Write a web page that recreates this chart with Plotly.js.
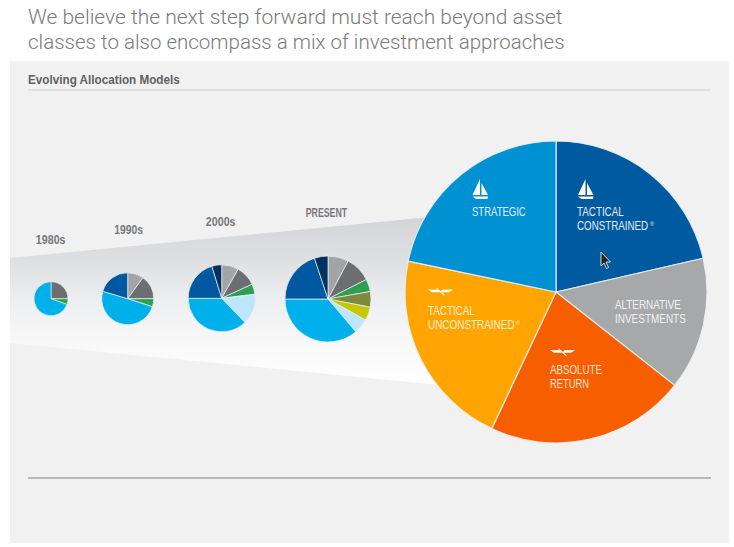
<!DOCTYPE html>
<html><head><meta charset="utf-8">
<script src="https://cdn.plot.ly/plotly-3.0.1.min.js"></script>
<style>html,body{margin:0;padding:0;background:#fff;overflow:hidden}#c{width:734px;height:547px}</style>
</head><body><div id="c"></div>
<script>
const W = 734, H = 547;
const SANS = '"Liberation Sans",Arial,sans-serif';

// Values are slice sizes in degrees of a full circle, read clockwise from 12 o'clock
const labels1980 = ['Equity core', 'Bonds', 'Stocks'];
const values1980 = [90, 20, 250];
const colors1980 = ['#6d6e71', '#2e9e4f', '#00b0ea'];

const labels1990 = ['Alternatives', 'Real assets', 'Green', 'Stocks', 'Bonds'];
const values1990 = [36, 54, 18, 178.6, 73.4];
const colors1990 = ['#a2a4a7', '#6d6e71', '#2e9e4f', '#00b0ea', '#0058a0'];

const labels2000 = ['Alternatives', 'Real assets', 'Green', 'Light blue', 'Stocks', 'Bonds', 'Cash'];
const values2000 = [29.5, 35.7, 17.8, 53, 134, 73, 17];
const colors2000 = ['#a2a4a7', '#6d6e71', '#2e9e4f', '#bde6fb', '#00b0ea', '#0058a0', '#00315f'];

const labelsPresent = ['Alternatives', 'Real assets', 'Green', 'Olive', 'Yellow', 'Light blue', 'Stocks', 'Bonds', 'Cash'];
const valuesPresent = [28, 35, 17, 21, 18.4, 20.3, 130.3, 71.6, 18.4];
const colorsPresent = ['#a2a4a7', '#6d6e71', '#2e9e4f', '#7d8a3c', '#c4c800', '#bde6fb', '#00b0ea', '#0058a0', '#00315f'];

const labelsFuture = ['Tactical Constrained', 'Alternative Investments', 'Absolute Return', 'Tactical Unconstrained', 'Strategic'];
const valuesFuture = [77.1, 51.1, 77, 76.6, 78.2];
const colorsFuture = ['#005a9f', '#a7a8aa', '#f65e00', '#ffa400', '#0091d2'];

const eraLabels = ['1980s', '1990s', '2000s', 'PRESENT'];

const px = x => x / W, py = y => 1 - y / H;
function pie(labels, values, colors, cx, cy, r, lw) {
  return {
    type: 'pie', labels, values, sort: false, direction: 'clockwise', rotation: 0,
    textinfo: 'none', hoverinfo: 'skip', showlegend: false,
    marker: { colors, line: { color: 'rgba(235,240,245,0.9)', width: lw } },
    domain: { x: [px(cx - r), px(cx + r)], y: [py(cy + r), py(cy - r)] }
  };
}
const traces = [
  pie(labels1980, values1980, colors1980, 51, 298.7, 17, 0.7),
  pie(labels1990, values1990, colors1990, 127.7, 298.7, 26, 0.8),
  pie(labels2000, values2000, colors2000, 221.7, 298.3, 33.5, 0.8),
  pie(labelsPresent, valuesPresent, colorsPresent, 328, 299, 43, 0.8),
  pie(labelsFuture, valuesFuture, colorsFuture, 556, 292, 151, 1.2)
];

const fitWidths = [];
function text(x, y, t, width, font, extra) {
  fitWidths.push(width);
  return Object.assign({
    xref: 'paper', yref: 'paper', x: px(x), y: py(y), text: t, showarrow: false,
    xanchor: 'left', yanchor: 'middle', align: 'left', borderpad: 0, borderwidth: 0, font
  }, extra || {});
}
const headF = { size: 21, color: '#7a7a7a', family: 'Roboto', weight: 300 };
const eraF = { size: 12, color: '#77787b', family: SANS, weight: 700 };
const lab = c => ({ size: 12, color: c, family: SANS });
const reg = c => ({ size: 6, color: c, family: SANS });
const mid = { xanchor: 'center', align: 'center' };
const annotations = [
  text(28, 17, 'We believe the next step forward must reach beyond asset', 535, headF),
  text(28, 42, 'classes to also encompass a mix of investment approaches', 537, headF),
  text(28, 80, 'Evolving Allocation Models', 152, { size: 13, color: '#5f6062', family: SANS, weight: 700 }),
  text(50.5, 240, eraLabels[0], 30, eraF, mid),
  text(128.5, 230, eraLabels[1], 29, eraF, mid),
  text(221, 222, eraLabels[2], 30, eraF, mid),
  text(326.5, 213, eraLabels[3], 42, eraF, mid),
  text(472, 212, 'STRATEGIC', 54, lab('#e3f1f9')),
  text(577, 212, 'TACTICAL', 47, lab('#e3edf5')),
  text(577, 226, 'CONSTRAINED', 71.5, lab('#e3edf5')),
  text(649.5, 224, '®', 4.5, reg('#e3edf5')),
  text(614.5, 305, 'ALTERNATIVE', 66, lab('#f2f2f2')),
  text(614.5, 318.5, 'INVESTMENTS', 71, lab('#f2f2f2')),
  text(549.5, 370, 'ABSOLUTE', 52, lab('#fde3d2')),
  text(549.5, 384, 'RETURN', 39, lab('#fde3d2')),
  text(428, 311, 'TACTICAL', 47, lab('#fff0d2')),
  text(428, 325, 'UNCONSTRAINED', 87, lab('#fff0d2')),
  text(516, 323, '®', 4.5, reg('#fff0d2'))
];

// Panel and wedge gradient, drawn behind everything
const gradSvg = '<svg xmlns="http://www.w3.org/2000/svg" width="734" height="547">' +
  '<defs><linearGradient id="g" x1="0" y1="218" x2="0" y2="383" gradientUnits="userSpaceOnUse">' +
  '<stop offset="0" stop-color="#d4d5d8"/><stop offset="0.25" stop-color="#dedfe1"/>' +
  '<stop offset="0.5" stop-color="#edeeef"/><stop offset="0.75" stop-color="#f8f8f9"/>' +
  '<stop offset="1" stop-color="#ffffff"/></linearGradient></defs>' +
  '<rect x="10" y="61" width="719" height="482" fill="#f1f1f2"/>' +
  '<path d="M10 258 L440 216 L440 385 L10 343 Z" fill="url(#g)"/></svg>';
const images = [{
  source: 'data:image/svg+xml;charset=utf-8,' + encodeURIComponent(gradSvg),
  xref: 'paper', yref: 'paper', x: 0, y: 1, sizex: 1, sizey: 1,
  xanchor: 'left', yanchor: 'top', sizing: 'stretch', layer: 'below'
}];

function path(points, fill, lineColor, lineWidth) {
  const d = points.map((p, i) => (i ? 'L' : 'M') + px(p[0]).toFixed(5) + ' ' + py(p[1]).toFixed(5)).join(' ') + ' Z';
  return { type: 'path', xref: 'paper', yref: 'paper', path: d, fillcolor: fill, layer: 'above',
    line: { color: lineColor || fill, width: lineWidth === undefined ? 0 : lineWidth } };
}
function boat(x, y) {
  return [
    path([[x, y - 9], [x, y + 7], [x - 7.5, y + 7]], '#ffffff'),
    path([[x + 1.5, y - 5], [x + 8, y + 7], [x + 1.5, y + 7]], '#ffffff'),
    path([[x - 7.5, y + 8.5], [x + 8, y + 8.5], [x + 7.5, y + 11], [x - 4, y + 11]], '#ffffff')
  ];
}
function oars(x, y) {
  return [
    path([[x, y - 1.5], [x + 10, y - 1.2], [x + 12, y + 1.2], [x + 4, y + 1.2]], '#ffffff'),
    path([[x + 14, y - 1.2], [x + 25, y - 1.5], [x + 21, y + 1.2], [x + 13, y + 1.2]], '#ffffff'),
    path([[x + 9, y - 3], [x + 17, y + 4], [x + 15.5, y + 4.3], [x + 8, y - 2.5]], '#ffffff')
  ];
}
const cur = [[601, 252], [601, 266], [604, 263], [606.5, 268.5], [608.5, 267.5], [606, 262], [610.5, 262]];
const shapes = [
  { type: 'line', xref: 'paper', yref: 'paper', x0: px(28), x1: px(711), y0: py(90), y1: py(90), line: { color: '#cfcfd1', width: 1 }, layer: 'below' },
  { type: 'line', xref: 'paper', yref: 'paper', x0: px(28), x1: px(711), y0: py(478), y1: py(478), line: { color: '#a5a6a8', width: 1.5 }, layer: 'below' },
  ...boat(480, 188), ...boat(585.5, 188), ...oars(428, 291), ...oars(550, 351.5),
  path(cur, '#222222', '#ffffff', 0.8)
];

Plotly.newPlot('c', traces, {
  width: W, height: H, margin: { l: 0, r: 0, t: 0, b: 0 },
  paper_bgcolor: '#ffffff', plot_bgcolor: 'rgba(0,0,0,0)',
  annotations, shapes, images, showlegend: false
}, { staticPlot: true, displayModeBar: false }).then(gd => {
  // The reference type is condensed; scale each label horizontally to its read width
  gd.querySelectorAll('.annotation-text').forEach((el, i) => {
    const bb = el.getBBox();
    const s = fitWidths[i] / bb.width;
    const a = annotations[i].xanchor === 'center' ? bb.x + bb.width / 2 : bb.x;
    el.setAttribute('transform', `translate(${a} 0) scale(${s} 1) translate(${-a} 0)`);
  });
});
</script></body></html>
